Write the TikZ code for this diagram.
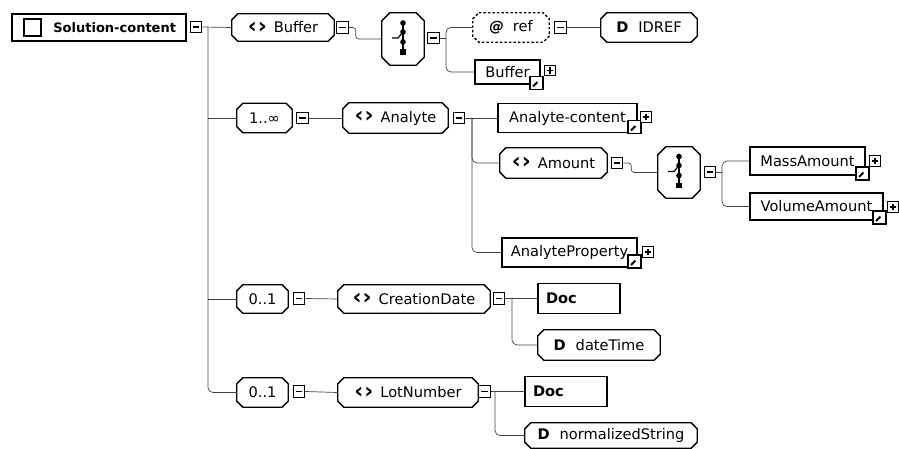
\documentclass[tikz,border=0pt]{standalone}
\usepackage{fontspec}
\usepackage{graphicx}
\setmainfont{DejaVu Sans}
\usetikzlibrary{calc,arrows.meta}
\tikzset{
  lbl/.style={font=\fontsize{14.6}{16}\selectfont, inner sep=0pt},
  hid/.style={lbl, draw=none},
  box/.style={lbl, draw, line width=1.3pt, fill=white},
  docbox/.style={box, line width=1.8pt, align=left, text width=66pt, inner xsep=8pt},
  octline/.style={draw, line width=1.3pt},
  conn/.style={draw=black!75, line width=0.7pt, rounded corners=5pt},
  sqbase/.style={draw, line width=1.1pt, fill=white, inner sep=0pt},
  minusbox/.style={sqbase, minimum size=11.5pt,
    path picture={\draw[line width=1.1pt] ([xshift=2.5pt]path picture bounding box.west) -- ([xshift=-2.5pt]path picture bounding box.east);}},
  plusbox/.style={sqbase, minimum size=10.5pt,
    path picture={\draw[line width=1.1pt] ([xshift=2pt]path picture bounding box.west) -- ([xshift=-2pt]path picture bounding box.east);
                  \draw[line width=1.1pt] ([yshift=2pt]path picture bounding box.south) -- ([yshift=-2pt]path picture bounding box.north);}},
  linkbox/.style={sqbase, line width=1.4pt, minimum size=13pt,
    path picture={\draw[line width=1.8pt] ([shift={(3pt,3pt)}]path picture bounding box.south west) -- ([shift={(-5pt,-5pt)}]path picture bounding box.north east);
                  \fill ([shift={(-2pt,-2pt)}]path picture bounding box.north east) -- ([shift={(-9pt,-2pt)}]path picture bounding box.north east) -- ([shift={(-2pt,-9pt)}]path picture bounding box.north east) -- cycle;}},
}
\newcommand\octo[2][]{%
  \draw[octline,#1] ($(#2.north west)+(6,0)$) -- ($(#2.north east)+(-6,0)$) -- ($(#2.north east)+(0,-6)$) -- ($(#2.south east)+(0,6)$) -- ($(#2.south east)+(-6,0)$) -- ($(#2.south west)+(6,0)$) -- ($(#2.south west)+(0,6)$) -- ($(#2.north west)+(0,-6)$) -- cycle;}
\newcommand\seqicon[1]{%
  \draw[octline] ($(#1.north west)+(8,0)$) -- ($(#1.north east)+(-8,0)$) -- ($(#1.north east)+(0,-8)$) -- ($(#1.south east)+(0,8)$) -- ($(#1.south east)+(-8,0)$) -- ($(#1.south west)+(8,0)$) -- ($(#1.south west)+(0,8)$) -- ($(#1.north west)+(0,-8)$) -- cycle;
  \draw[line width=1.3pt] ($(#1.center)+(0,16)$) -- ($(#1.center)+(0,-13)$);
  \draw[line width=1.2pt] ($(#1.center)+(-11,1)$) -- ($(#1.center)+(-5,1)$) -- ($(#1.center)+(0,7)$);
  \fill ($(#1.center)+(0,16)$) circle (2.8);
  \fill ($(#1.center)+(0,7)$) circle (2.8);
  \fill ($(#1.center)+(0,-3)$) circle (2.8);
  \fill ($(#1.center)+(-2.8,-15.8)$) rectangle ++(5.6,5.6);}
\newcommand\el{\raisebox{-0.5pt}{\scalebox{1.5}{\bfseries ‹\hspace{0.6pt}›}}\hspace{7pt}}
\newcommand\dd{\textbf{D}\hspace{10pt}}
\begin{document}
\begin{tikzpicture}[x=1pt,y=1pt]
\useasboundingbox (0,0) rectangle (899,-449);
% ---------- nodes ----------
\node[box, line width=2pt, minimum width=174, minimum height=27, text width=154pt, inner xsep=10pt, align=right, font=\fontsize{13}{15}\selectfont\bfseries] (root) at (99,-27.5) {Solution-content};
\draw[line width=1.3pt] ($(root.west)+(13,-8.5)$) rectangle ++(17,17);
\node[minusbox] (mr) at (196,-27) {};

\node[hid, minimum width=102, minimum height=27] (buffer) at (283,-27.5) {\el Buffer};
\octo{buffer}
\node[minusbox] (mbuf) at (342.5,-27.5) {};
\node[hid, minimum width=76, minimum height=29] (ref) at (511,-27.5) {\textbf{\textit{@}}\hspace{9pt}ref};
\octo[dash pattern=on 2.5pt off 2pt]{ref}
\node[hid, minimum width=42, minimum height=52] (seq1) at (403,-39) {};
\seqicon{seq1}
\node[minusbox] (mseq1) at (433.5,-38) {};
\node[minusbox] (mref) at (560.5,-27.5) {};
\node[hid, minimum width=96, minimum height=29] (idref) at (649,-27.5) {\dd IDREF};
\octo{idref}
\node[box, minimum width=65, minimum height=24] (bufref) at (507.5,-72) {Buffer};
\node[linkbox] (lbufref) at (536.5,-83) {};
\node[plusbox] (pbufref) at (550,-70.5) {};

\node[hid, minimum width=55, minimum height=29] (mult1) at (264.5,-118) {1..∞};
\octo{mult1}
\node[minusbox] (mm1) at (302.5,-118) {};
\node[hid, minimum width=105, minimum height=30] (analyte) at (395.5,-118) {\el Analyte};
\octo{analyte}
\node[minusbox] (man) at (459,-118) {};
\node[box, minimum width=139, minimum height=29] (ac) at (567.5,-118) {Analyte-content};
\node[linkbox] (lac) at (634.5,-127) {};
\node[plusbox] (pac) at (646,-117) {};
\node[hid, minimum width=107, minimum height=30] (amount) at (553.5,-163) {\el Amount};
\octo{amount}
\node[minusbox] (mam) at (617,-163) {};
\node[hid, minimum width=42, minimum height=51] (seq2) at (679,-172.5) {};
\seqicon{seq2}
\node[minusbox] (mseq2) at (710,-172) {};
\node[box, minimum width=115, minimum height=28] (mass) at (807.5,-161) {MassAmount};
\node[linkbox] (lmass) at (862.5,-173.5) {};
\node[plusbox] (pmass) at (875,-161) {};
\node[box, minimum width=133, minimum height=27] (volume) at (816.5,-206.5) {VolumeAmount};
\node[linkbox] (lvolume) at (879.5,-217.5) {};
\node[plusbox] (pvolume) at (893,-207) {};
\node[box, minimum width=135, minimum height=29] (ap) at (569.5,-252.5) {AnalyteProperty};
\node[linkbox] (lap) at (634.5,-261.5) {};
\node[plusbox] (pap) at (648,-252) {};

\node[hid, minimum width=51, minimum height=28] (mult2) at (262.5,-299) {0..1};
\octo{mult2}
\node[minusbox] (mm2) at (299,-298.5) {};
\node[hid, minimum width=152, minimum height=28] (cd) at (414,-299) {\el CreationDate};
\octo{cd}
\node[minusbox] (mcd) at (499,-298.5) {};
\node[docbox, minimum height=30] (doc1) at (579,-298.5) {\textbf{Doc}};
\node[hid, minimum width=122, minimum height=30] (dt) at (599,-345) {\dd dateTime};
\octo{dt}

\node[hid, minimum width=51, minimum height=29] (mult3) at (262.5,-392.5) {0..1};
\octo{mult3}
\node[minusbox] (mm3) at (299,-391.5) {};
\node[hid, minimum width=140, minimum height=29] (lot) at (408,-392.5) {\el LotNumber};
\octo{lot}
\node[minusbox] (mlot) at (484.5,-391.5) {};
\node[docbox, minimum height=30] (doc2) at (566,-391.5) {\textbf{Doc}};
\node[hid, minimum width=172, minimum height=25] (ns) at (611,-435.5) {\dd normalizedString};
\octo{ns}

% ---------- connectors ----------
\coordinate (t0) at (208,-27);
\draw[conn] (mr.east) -- (buffer.west);
\draw[conn] (t0) |- (mult3.west);
\draw[conn] (t0 |- mult1.west) -- (mult1.west);
\draw[conn] (t0 |- mult2.west) -- (mult2.west);

\draw[conn, rounded corners=3pt] (mbuf.east) -- ++(7,0) |- (seq1.west);
\coordinate (b1) at (446,-38);
\draw[conn] (mseq1.east) -- (b1);
\draw[conn] (b1) |- (ref.west);
\draw[conn] (b1) |- (bufref.west);
\draw[conn] (mref.east) -- (idref.west);

\draw[conn] (mm1.east) -- (analyte.west);
\coordinate (b2) at (472,-118);
\draw[conn] (man.east) -- (ac.west);
\draw[conn] (b2) |- (amount.west);
\draw[conn] (b2) |- (ap.west);
\draw[conn, rounded corners=3pt] (mam.east) -- ++(8,0) |- (seq2.west);
\coordinate (b3) at (722,-172);
\draw[conn] (mseq2.east) -- (b3);
\draw[conn] (b3) |- (mass.west);
\draw[conn] (b3) |- (volume.west);

\draw[conn] (mm2.east) -- (cd.west);
\coordinate (b4) at (512,-298.5);
\draw[conn] (mcd.east) -- (doc1.west);
\draw[conn] (b4) |- (dt.west);

\draw[conn] (mm3.east) -- (lot.west);
\coordinate (b5) at (495,-391.5);
\draw[conn] (mlot.east) -- (doc2.west);
\draw[conn] (b5) |- (ns.west);
\end{tikzpicture}
\end{document}
